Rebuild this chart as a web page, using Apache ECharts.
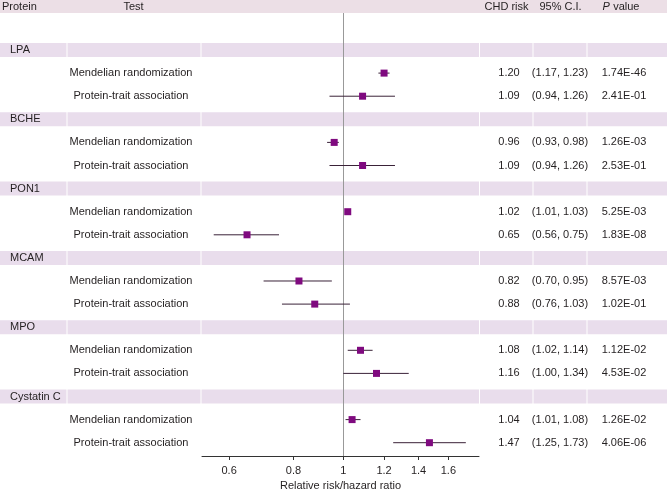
<!DOCTYPE html>
<html>
<head>
<meta charset="utf-8">
<script src="https://cdn.jsdelivr.net/npm/echarts@6/dist/echarts.min.js"></script>
<style>
html,body{margin:0;padding:0;background:#fff;}
#chart{width:667px;height:491px;}
</style>
</head>
<body>
<div id="chart"></div>
<script>
const proteins = ['LPA', 'BCHE', 'PON1', 'MCAM', 'MPO', 'Cystatin C'];
const tests = ['Mendelian randomization', 'Protein-trait association'];
const estimates = [1.20, 1.09, 0.96, 1.09, 1.02, 0.65, 0.82, 0.88, 1.08, 1.16, 1.04, 1.47];
const ciLower  = [1.17, 0.94, 0.93, 0.94, 1.01, 0.56, 0.70, 0.76, 1.02, 1.00, 1.01, 1.25];
const ciUpper  = [1.23, 1.26, 0.98, 1.26, 1.03, 0.75, 0.95, 1.03, 1.14, 1.34, 1.08, 1.73];
const pValues  = ['1.74E-46', '2.41E-01', '1.26E-03', '2.53E-01', '5.25E-03', '1.83E-08',
                  '8.57E-03', '1.02E-01', '1.12E-02', '4.53E-02', '1.26E-02', '4.06E-06'];
const xTicks = [0.6, 0.8, 1, 1.2, 1.4, 1.6];
const headers = ['Protein', 'Test', 'CHD risk', '95% C.I.', 'P value'];
const xAxisTitle = 'Relative risk/hazard ratio';

const FONT = '11px "Liberation Sans", Arial, sans-serif';
const TXT = '#231f20';
const BAND = '#e9ddec';
const HEAD = '#ecdfe6';

// build rows: group row then test rows
const rows = [];
proteins.forEach((p, i) => {
  rows.push({ kind: 'group', row: rows.length, label: p });
  tests.forEach((t, j) => {
    const k = i * tests.length + j;
    rows.push({ kind: 'test', row: rows.length, label: t, k: k });
  });
});
const testRows = rows.filter(r => r.kind === 'test');

const chart = echarts.init(document.getElementById('chart'), null, { renderer: 'canvas' });

const bandSegs = [[0, 66.5], [67.5, 200.5], [201.5, 479], [480, 532.5], [533.5, 586.5], [587.5, 667]];

const option = {
  animation: false,
  backgroundColor: '#ffffff',
  grid: { left: 202, right: 188, top: 13, bottom: 35, containLabel: false, outerBoundsMode: 'none' },
  xAxis: {
    type: 'log',
    min: 0.5314,
    max: 1.835,
    axisLine: { show: true, onZero: false, lineStyle: { color: '#333', width: 1 } },
    axisTick: { show: true, inside: false, length: 4, lineStyle: { color: '#333' }, customValues: xTicks },
    axisLabel: {
      show: true, customValues: xTicks, margin: 9, fontSize: 11,
      fontFamily: '"Liberation Sans", Arial, sans-serif', color: TXT,
      formatter: v => String(+(+v).toFixed(2))
    },
    splitLine: { show: false },
    minorTick: { show: false },
    name: xAxisTitle,
    nameLocation: 'middle',
    nameGap: 24,
    nameTextStyle: { fontSize: 11, fontFamily: '"Liberation Sans", Arial, sans-serif', color: TXT }
  },
  yAxis: {
    type: 'value',
    inverse: true,
    min: -1.602,
    max: 17.576,
    show: false
  },
  graphic: [
    { type: 'rect', shape: { x: 0, y: 0, width: 667, height: 13 }, style: { fill: HEAD }, z: 0 },
    { type: 'text', style: { text: headers[0], x: 2, y: 6.5, font: FONT, fill: TXT, align: 'left', verticalAlign: 'middle' } },
    { type: 'text', style: { text: headers[1], x: 133.5, y: 6.5, font: FONT, fill: TXT, align: 'center', verticalAlign: 'middle' } },
    { type: 'text', style: { text: headers[2], x: 506.5, y: 6.5, font: FONT, fill: TXT, align: 'center', verticalAlign: 'middle' } },
    { type: 'text', style: { text: headers[3], x: 560.5, y: 6.5, font: FONT, fill: TXT, align: 'center', verticalAlign: 'middle' } },
    { type: 'text', style: {
        text: '{i|P} {n|value}', x: 621, y: 6.5, align: 'center', verticalAlign: 'middle',
        rich: {
          i: { font: 'italic 11px "Liberation Sans", Arial, sans-serif', fill: TXT },
          n: { font: FONT, fill: TXT }
        }
      } }
  ],
  series: [
    {
      type: 'custom',
      name: 'table',
      clip: false,
      silent: true,
      z: 1,
      data: rows.map(r => [1, r.row]),
      renderItem: function (params, api) {
        const r = rows[params.dataIndex];
        const y = api.coord([1, r.row])[1];
        const children = [];
        if (r.kind === 'group') {
          bandSegs.forEach(s => {
            children.push({ type: 'rect', shape: { x: s[0], y: y - 7, width: s[1] - s[0], height: 14 }, style: { fill: BAND } });
          });
          children.push({ type: 'text', style: { text: r.label, x: 10, y: y, font: FONT, fill: TXT, align: 'left', verticalAlign: 'middle' } });
        } else {
          const k = r.k;
          children.push({ type: 'text', style: { text: r.label, x: 131, y: y, font: FONT, fill: TXT, align: 'center', verticalAlign: 'middle' } });
          children.push({ type: 'text', style: { text: estimates[k].toFixed(2), x: 509, y: y, font: FONT, fill: TXT, align: 'center', verticalAlign: 'middle' } });
          children.push({ type: 'text', style: { text: '(' + ciLower[k].toFixed(2) + ', ' + ciUpper[k].toFixed(2) + ')', x: 560, y: y, font: FONT, fill: TXT, align: 'center', verticalAlign: 'middle' } });
          children.push({ type: 'text', style: { text: pValues[k], x: 624, y: y, font: FONT, fill: TXT, align: 'center', verticalAlign: 'middle' } });
        }
        return { type: 'group', children: children };
      }
    },
    {
      type: 'custom',
      name: 'ci',
      clip: false,
      silent: true,
      z: 3,
      data: testRows.map(r => [ciLower[r.k], ciUpper[r.k], r.row]),
      renderItem: function (params, api) {
        const p1 = api.coord([api.value(0), api.value(2)]);
        const p2 = api.coord([api.value(1), api.value(2)]);
        return { type: 'line', shape: { x1: p1[0], y1: p1[1], x2: p2[0], y2: p2[1] }, style: { stroke: '#3a2238', lineWidth: 1 } };
      }
    },
    {
      type: 'scatter',
      name: 'estimate',
      symbol: 'rect',
      symbolSize: 7,
      z: 4,
      silent: true,
      itemStyle: { color: '#7f0a7f', opacity: 1 },
      data: testRows.map(r => [estimates[r.k], r.row]),
      markLine: {
        silent: true,
        symbol: 'none',
        label: { show: false },
        lineStyle: { color: '#999999', type: 'solid', width: 1 },
        data: [{ xAxis: 1 }],
        z: 2
      }
    }
  ]
};
chart.setOption(option);
</script>
</body>
</html>
